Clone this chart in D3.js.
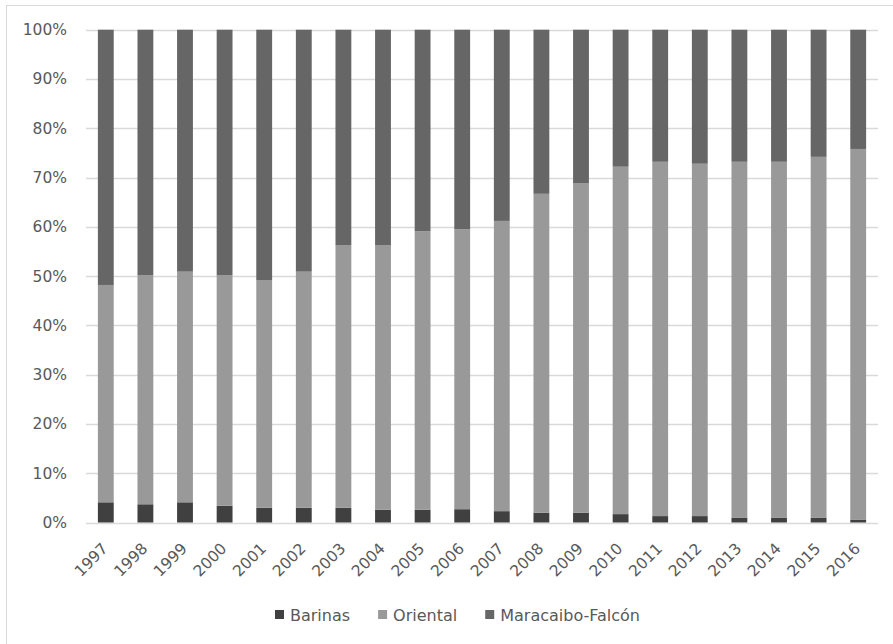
<!DOCTYPE html>
<html>
<head>
<meta charset="utf-8">
<script src="https://cdn.jsdelivr.net/npm/d3@7"></script>
<style>
  html, body { margin: 0; padding: 0; background: #fff; }
  svg { display: block; }
  text { font-family: "DejaVu Sans", "Noto Sans", sans-serif; fill: #595959; }
</style>
</head>
<body>
<svg id="chart" width="893" height="644"></svg>
<script>
// ---- data (percent shares) ----
const years = ["1997","1998","1999","2000","2001","2002","2003","2004","2005","2006",
               "2007","2008","2009","2010","2011","2012","2013","2014","2015","2016"];
const barinas   = [4.1, 3.7, 4.1, 3.4, 3.0, 3.0, 3.0, 2.6, 2.6, 2.7, 2.3, 2.0, 2.0, 1.7, 1.3, 1.3, 1.0, 1.0, 1.0, 0.6];
const oriental  = [44.1, 46.5, 46.8, 46.8, 46.2, 47.9, 53.3, 53.7, 56.5, 56.8, 58.9, 64.7, 66.8, 70.5, 71.9, 71.5, 72.2, 72.2, 73.2, 75.2];
const maracaibo = [51.8, 49.8, 49.1, 49.8, 50.8, 49.1, 43.7, 43.7, 40.9, 40.5, 38.8, 33.3, 31.2, 27.8, 26.8, 27.2, 26.8, 26.8, 25.8, 24.2];
const seriesNames = ["Barinas", "Oriental", "Maracaibo-Falcón"];
const yTicks = [0, 0.1, 0.2, 0.3, 0.4, 0.5, 0.6, 0.7, 0.8, 0.9, 1.0];

const colors = { "Barinas": "#404040", "Oriental": "#999999", "Maracaibo-Falcón": "#666666" };

const rows = years.map((yr, i) => ({
  year: yr, "Barinas": barinas[i], "Oriental": oriental[i], "Maracaibo-Falcón": maracaibo[i]
}));

const svg = d3.select("#chart");

// chart border (top & left visible, rest cropped)
svg.append("rect")
  .attr("x", 6.5).attr("y", 5.5).attr("width", 900).attr("height", 700)
  .attr("fill", "none").attr("stroke", "#d9d9d9").attr("stroke-width", 1);

const plotLeft = 86, plotRight = 878, plotTop = 29.7, plotBottom = 522.5;

const x = d3.scaleBand().domain(years).range([plotLeft, plotRight]).paddingInner(0.6).paddingOuter(0.3);
const y = d3.scaleLinear().domain([0, 1]).range([plotBottom, plotTop]);

// gridlines
svg.append("g").selectAll("line").data(yTicks).join("line")
  .attr("x1", plotLeft).attr("x2", plotRight)
  .attr("y1", d => Math.round(y(d)) + 0.5).attr("y2", d => Math.round(y(d)) + 0.5)
  .attr("stroke", "#d9d9d9").attr("stroke-width", 1.3);

// y axis labels
const yAxis = d3.axisLeft(y).tickValues(yTicks).tickFormat(d3.format(".0%")).tickSize(0).tickPadding(0);
const yg = svg.append("g").attr("transform", `translate(67,0)`).call(yAxis);
yg.select(".domain").remove();
yg.selectAll("text").attr("font-size", "15.5px").attr("fill", "#595959")
  .attr("font-family", "DejaVu Sans, sans-serif");

// stacked bars
const stack = d3.stack().keys(seriesNames).offset(d3.stackOffsetExpand);
const stacked = stack(rows);

svg.append("g").selectAll("g").data(stacked).join("g")
  .attr("fill", d => colors[d.key])
  .selectAll("rect").data(d => d).join("rect")
  .attr("x", d => x(d.data.year))
  .attr("width", x.bandwidth())
  .attr("y", d => y(d[1]))
  .attr("height", d => y(d[0]) - y(d[1]));

// x axis labels
const xAxis = d3.axisBottom(x).tickSize(0).tickPadding(0);
const xg = svg.append("g").attr("transform", `translate(0,${plotBottom})`).call(xAxis);
xg.select(".domain").remove();
xg.selectAll("text")
  .attr("font-size", "15.5px").attr("fill", "#595959")
  .attr("font-family", "DejaVu Sans, sans-serif")
  .attr("text-anchor", "end")
  .attr("dy", null).attr("y", null)
  .attr("transform", "translate(3,27) rotate(-45)");

// legend
const legend = svg.append("g").attr("transform", "translate(275,615)");
let lx = 0;
seriesNames.forEach(name => {
  const g = legend.append("g").attr("transform", `translate(${lx},0)`);
  g.append("rect").attr("x", 0).attr("y", -5).attr("width", 9).attr("height", 9).attr("fill", colors[name]);
  const t = g.append("text").attr("x", 15).attr("y", 0).attr("dy", "0.35em")
    .attr("font-size", "16px").text(name);
  lx += 15 + t.node().getComputedTextLength() + 28;
});
</script>
</body>
</html>
